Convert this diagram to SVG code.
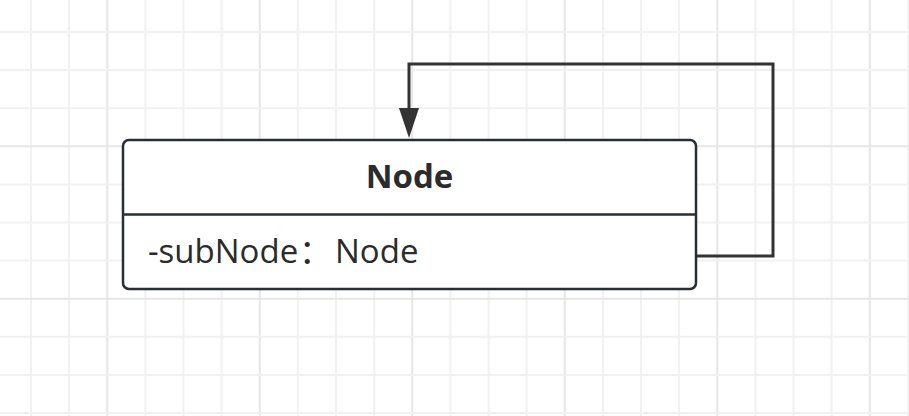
<svg xmlns="http://www.w3.org/2000/svg" width="909" height="416" viewBox="0 0 909 416">
  <style>
    .minor { stroke: #f1f1f1; stroke-width: 2; fill: none; }
    .major { stroke: #e6e6e6; stroke-width: 2; fill: none; }
    .box { fill: #ffffff; stroke: #272e35; stroke-width: 2.5; }
    .div { stroke: #272e35; stroke-width: 2.5; }
    .title { font-family: "Open Sans", "Noto Sans", sans-serif; font-weight: bold; font-size: 33px; fill: #2b2b2b; }
    .attr { font-family: "Open Sans", "Noto Sans", "Noto Sans CJK SC", sans-serif; font-size: 33px; fill: #2b2b2b; }
    .conn { stroke: #333333; stroke-width: 3; fill: none; }
  </style>
  <defs>
    <marker id="arrow" markerUnits="userSpaceOnUse" markerWidth="30" markerHeight="20" viewBox="0 0 30 20" refX="0" refY="10" orient="auto">
      <path d="M0 0 L30 10 L0 20 Z" fill="#333333"/>
    </marker>
  </defs>
  <rect x="0" y="0" width="909" height="416" fill="#ffffff"/>
  <g id="grid">
    <path class="minor" d="M31 0V416M69.1 0V416M145.4 0V416M183.5 0V416M221.7 0V416M297.9 0V416M336 0V416M374.2 0V416M450.4 0V416M488.6 0V416M526.7 0V416M602.9 0V416M641 0V416M679.1 0V416M755.4 0V416M793.5 0V416M831.7 0V416M907.9 0V416"/>
    <path class="major" d="M107.3 0V416M259.8 0V416M412.3 0V416M564.8 0V416M717.3 0V416M869.8 0V416"/>
    <path class="minor" d="M0 32H909M0 70.1H909M0 108.2H909M0 184.4H909M0 222.5H909M0 260.6H909M0 336.8H909M0 374.9H909M0 413H909"/>
    <path class="major" d="M0 146.3H909M0 298.7H909"/>
  </g>
  <g id="connectors">
    <path class="conn" d="M697 256 H773 V64 H409 V108" marker-end="url(#arrow)"/>
  </g>
  <g id="node-Node">
    <rect class="box" x="123" y="140" width="573" height="149" rx="6"/>
    <line class="div" x1="123" y1="214.5" x2="696" y2="214.5"/>
    <text class="title" x="409.5" y="188" text-anchor="middle">Node</text>
    <text class="attr" y="262.5"><tspan x="148">-subNode</tspan><tspan x="299">：</tspan><tspan x="335">Node</tspan></text>
  </g>
</svg>
